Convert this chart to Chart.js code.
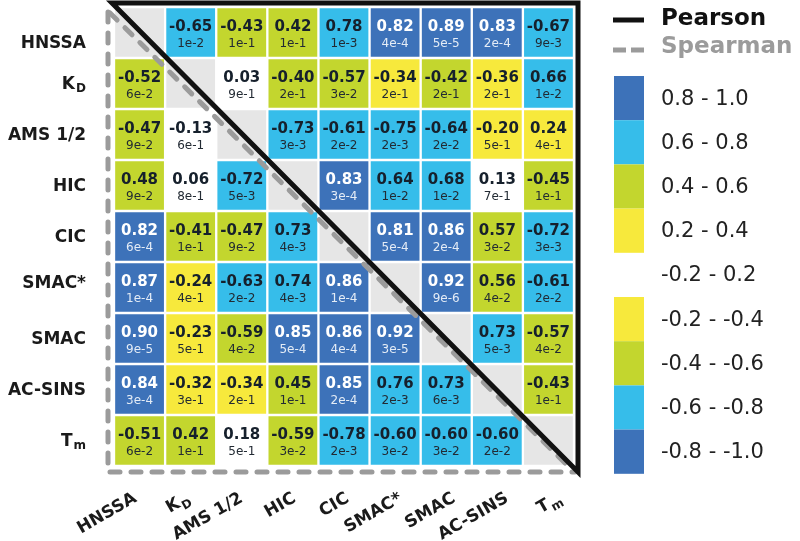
<!DOCTYPE html>
<html>
<head>
<meta charset="utf-8">
<script src="https://cdn.jsdelivr.net/npm/chart.js@4.4.1/dist/chart.umd.min.js"></script>
<style>
	html, body { margin: 0; padding: 0; background: #ffffff; }
	#wrap { width: 800px; height: 541px; position: relative; }
</style>
</head>
<body>
<div id="wrap"><canvas id="myChart"></canvas></div>
<script>
// variable names (same order for rows and columns), subscript part kept apart
var labelMain = ['HNSSA', 'K', 'AMS 1/2', 'HIC', 'CIC', 'SMAC*', 'SMAC', 'AC-SINS', 'T'];
var labelSub = ['', 'D', '', '', '', '', '', '', 'm'];

// correlation coefficients, upper right = Pearson, lower left = Spearman, null = diagonal
var rValues = [
	[null, -0.65, -0.43, 0.42, 0.78, 0.82, 0.89, 0.83, -0.67],
	[-0.52, null, 0.03, -0.40, -0.57, -0.34, -0.42, -0.36, 0.66],
	[-0.47, -0.13, null, -0.73, -0.61, -0.75, -0.64, -0.20, 0.24],
	[0.48, 0.06, -0.72, null, 0.83, 0.64, 0.68, 0.13, -0.45],
	[0.82, -0.41, -0.47, 0.73, null, 0.81, 0.86, 0.57, -0.72],
	[0.87, -0.24, -0.63, 0.74, 0.86, null, 0.92, 0.56, -0.61],
	[0.90, -0.23, -0.59, 0.85, 0.86, 0.92, null, 0.73, -0.57],
	[0.84, -0.32, -0.34, 0.45, 0.85, 0.76, 0.73, null, -0.43],
	[-0.51, 0.42, 0.18, -0.59, -0.78, -0.60, -0.60, -0.60, null]
];

// p-values, same layout
var pValues = [
	[null, '1e-2', '1e-1', '1e-1', '1e-3', '4e-4', '5e-5', '2e-4', '9e-3'],
	['6e-2', null, '9e-1', '2e-1', '3e-2', '2e-1', '2e-1', '2e-1', '1e-2'],
	['9e-2', '6e-1', null, '3e-3', '2e-2', '2e-3', '2e-2', '5e-1', '4e-1'],
	['9e-2', '8e-1', '5e-3', null, '3e-4', '1e-2', '1e-2', '7e-1', '1e-1'],
	['6e-4', '1e-1', '9e-2', '4e-3', null, '5e-4', '2e-4', '3e-2', '3e-3'],
	['1e-4', '4e-1', '2e-2', '4e-3', '1e-4', null, '9e-6', '4e-2', '2e-2'],
	['9e-5', '5e-1', '4e-2', '5e-4', '4e-4', '3e-5', null, '5e-3', '4e-2'],
	['3e-4', '3e-1', '2e-1', '1e-1', '2e-4', '2e-3', '6e-3', null, '1e-1'],
	['6e-2', '1e-1', '5e-1', '3e-2', '2e-3', '3e-2', '3e-2', '2e-2', null]
];

// colour key
var binLabels = ['0.8 - 1.0', '0.6 - 0.8', '0.4 - 0.6', '0.2 - 0.4', '-0.2 - 0.2', '-0.2 - -0.4', '-0.4 - -0.6', '-0.6 - -0.8', '-0.8 - -1.0'];
var binColors = ['#3d72b9', '#36bdea', '#c3d62e', '#f7e93c', '#ffffff', '#f7e93c', '#c3d62e', '#36bdea', '#3d72b9'];

var FONT = '"DejaVu Sans", Verdana, sans-serif';

function cellColor(v){
	if(v == null) return '#e6e6e6';
	var a = Math.abs(v);
	if(a >= 0.795) return binColors[0];
	if(a >= 0.595) return binColors[1];
	if(a >= 0.395) return binColors[2];
	if(a >= 0.195) return binColors[3];
	return '#ffffff';
}

// draws a label with an optional subscript, anchored at its right end
function drawLabel(ctx, main, sub, x, y, size){
	ctx.font = 'bold ' + size + 'px ' + FONT;
	var w1 = ctx.measureText(main).width;
	var subSize = Math.round(size * 0.72);
	var w2 = 0;
	if(sub){
		ctx.font = 'bold ' + subSize + 'px ' + FONT;
		w2 = ctx.measureText(sub).width + 1;
	}
	ctx.textAlign = 'left';
	ctx.font = 'bold ' + size + 'px ' + FONT;
	ctx.fillText(main, x - w1 - w2, y);
	if(sub){
		ctx.font = 'bold ' + subSize + 'px ' + FONT;
		ctx.fillText(sub, x - w2 + 1, y + size * 0.28);
	}
}

var datasets = rValues.map(function(row, r){
	return {
		label: labelMain[r] + labelSub[r],
		data: row.map(function(v, c){ return [r - 0.5, r + 0.5]; }),
		backgroundColor: row.map(cellColor),
		borderColor: '#ffffff',
		borderWidth: 1.5,
		borderSkipped: false,
		grouped: false,
		categoryPercentage: 1,
		barPercentage: 1
	};
});

var cellText = {
	id: 'cellText',
	afterDatasetsDraw: function(chart){
		var ctx = chart.ctx;
		var xs = chart.scales.x, ys = chart.scales.y;
		ctx.save();
		ctx.textAlign = 'center';
		ctx.textBaseline = 'middle';
		rValues.forEach(function(row, r){
			row.forEach(function(v, c){
				if(v == null) return;
				var x = xs.getPixelForValue(c);
				var y = ys.getPixelForValue(r);
				var dark = Math.abs(v) >= 0.795;
				ctx.fillStyle = dark ? '#ffffff' : '#16202c';
				ctx.font = 'bold 15px ' + FONT;
				ctx.fillText(v.toFixed(2), x, y - 5);
				ctx.fillStyle = dark ? '#e4ecf6' : '#222a33';
				ctx.font = '12px ' + FONT;
				ctx.fillText(pValues[r][c], x, y + 11);
			});
		});
		ctx.restore();
	}
};

var frameAndKey = {
	id: 'frameAndKey',
	afterDraw: function(chart){
		var ctx = chart.ctx;
		var a = chart.chartArea;
		var xs = chart.scales.x, ys = chart.scales.y;
		ctx.save();

		// Spearman frame (lower left, dashed grey)
		ctx.strokeStyle = '#9b9b9b';
		ctx.lineWidth = 5;
		ctx.lineCap = 'round';
		ctx.setLineDash([10, 11]);
		ctx.beginPath();
		ctx.moveTo(a.left - 6, a.top + 5);
		ctx.lineTo(a.left - 6, a.bottom + 6);
		ctx.lineTo(a.right + 1, a.bottom + 6);
		ctx.stroke();
		ctx.beginPath();
		ctx.moveTo(a.left - 4, a.top + 6);
		ctx.lineTo(a.right - 2, a.bottom + 4);
		ctx.stroke();

		// Pearson frame (upper right, solid black)
		ctx.setLineDash([]);
		ctx.lineCap = 'butt';
		ctx.lineJoin = 'miter';
		ctx.strokeStyle = '#111111';
		ctx.beginPath();
		ctx.moveTo(a.left - 2, a.top - 4);
		ctx.lineTo(a.right + 4, a.top - 4);
		ctx.lineTo(a.right + 4, a.bottom + 6);
		ctx.closePath();
		ctx.stroke();

		// row labels (the first one sits a little low in the original)
		var rowShift = { 0: 10, 5: -5 };
		ctx.fillStyle = '#1a1a1a';
		ctx.textBaseline = 'middle';
		labelMain.forEach(function(m, i){
			var dy = 1 + (rowShift[i] || 0);
			drawLabel(ctx, m, labelSub[i], a.left - 28, ys.getPixelForValue(i) + dy, 17);
		});

		// column labels, rotated
		ctx.textBaseline = 'alphabetic';
		labelMain.forEach(function(m, i){
			ctx.save();
			ctx.translate(xs.getPixelForValue(i) - 2 + 2 * i, a.bottom + 35);
			ctx.rotate(-30 * Math.PI / 180);
			drawLabel(ctx, m, labelSub[i], 0, 0, 17);
			ctx.restore();
		});

		// line key
		var kx = a.right + 39;
		ctx.lineWidth = 5;
		ctx.strokeStyle = '#111111';
		ctx.beginPath();
		ctx.moveTo(kx, 20);
		ctx.lineTo(kx + 31, 20);
		ctx.stroke();
		ctx.strokeStyle = '#9b9b9b';
		ctx.beginPath();
		ctx.moveTo(kx, 50); ctx.lineTo(kx + 13, 50);
		ctx.moveTo(kx + 18, 50); ctx.lineTo(kx + 31, 50);
		ctx.stroke();
		ctx.textAlign = 'left';
		ctx.textBaseline = 'middle';
		ctx.font = 'bold 23px ' + FONT;
		ctx.fillStyle = '#111111';
		ctx.fillText('Pearson', kx + 48, 19);
		ctx.fillStyle = '#9b9b9b';
		ctx.fillText('Spearman', kx + 48, 47);

		// colour key
		var boxTop = 76, boxH = 44.2;
		binLabels.forEach(function(t, i){
			var y = boxTop + i * boxH;
			if(binColors[i] != '#ffffff'){
				ctx.fillStyle = binColors[i];
				ctx.fillRect(kx + 1, y, 30, boxH);
			}
			ctx.fillStyle = '#222222';
			ctx.font = '21px ' + FONT;
			ctx.fillText(t, kx + 48, y + boxH / 2 + 1);
		});

		ctx.restore();
	}
};

var ctx = document.getElementById('myChart');
var myChart = new Chart(ctx, {
	type: 'bar',
	data: {
		labels: labelMain.map(function(m, i){ return m + labelSub[i]; }),
		datasets: datasets
	},
	options: {
		responsive: true,
		maintainAspectRatio: false,
		animation: false,
		devicePixelRatio: 1,
		layout: {
			padding: { left: 114, top: 7, right: 226, bottom: 75 }
		},
		plugins: {
			legend: { display: false },
			tooltip: { enabled: false }
		},
		scales: {
			x: { type: 'category', display: false, offset: true, grid: { display: false } },
			y: { type: 'linear', display: false, min: -0.5, max: 8.5, reverse: true, grid: { display: false } }
		}
	},
	plugins: [cellText, frameAndKey]
});
</script>
</body>
</html>
